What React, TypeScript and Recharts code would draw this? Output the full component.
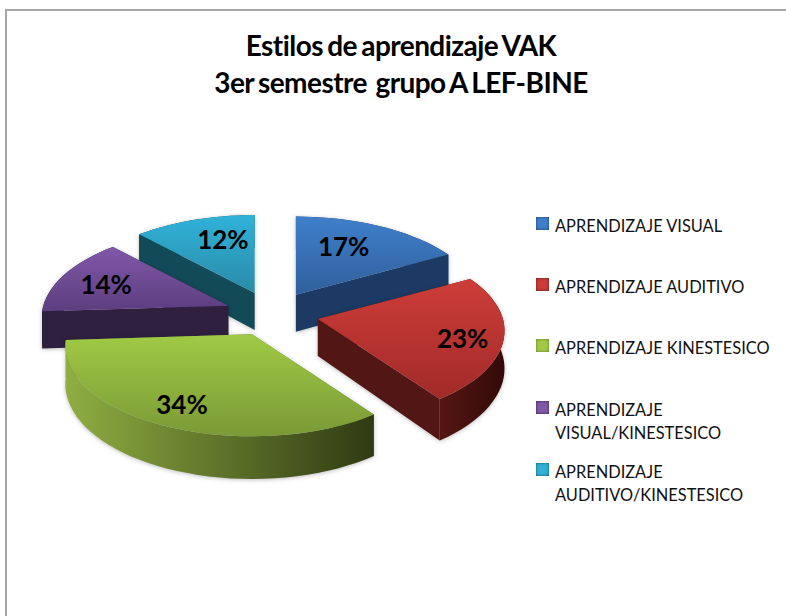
import { Legend, Pie, PieChart } from "recharts";

const CATEGORIES = [
  "APRENDIZAJE VISUAL",
  "APRENDIZAJE AUDITIVO",
  "APRENDIZAJE KINESTESICO",
  "APRENDIZAJE VISUAL/KINESTESICO",
  "APRENDIZAJE AUDITIVO/KINESTESICO",
];
const VALUES = [17, 23, 34, 14, 12];
const LEGEND_LINES = [
  ["APRENDIZAJE VISUAL"],
  ["APRENDIZAJE AUDITIVO"],
  ["APRENDIZAJE KINESTESICO"],
  ["APRENDIZAJE", "VISUAL/KINESTESICO"],
  ["APRENDIZAJE", "AUDITIVO/KINESTESICO"],
];
const TOP_LIGHT = ["#3f7fca", "#cd3d38", "#a0ca45", "#8058a8", "#30b2d8"];
const TOP_DARK = ["#2f609c", "#a12a28", "#7a9a36", "#5c3e80", "#2a8ba8"];
const SIDE = ["#1c3a63", "#521614", "#5d7428", "#2f2040", "#124a58"];
const RIM_LIGHT = ["#1c3a63", "#551613", "#8fae42", "#2f2040", "#124a58"];
const RIM_DARK = ["#1c3a63", "#330a08", "#2f3a12", "#2f2040", "#124a58"];

// where the percent label sits along the slice, plus a small hand nudge
const LABEL_RADIUS = [0.6, 0.8, 0.86, 0.69, 0.59];
const LABEL_DX = [-3, -4, 7, -9, 4];
const LABEL_DY = [-8, 3, -9, 0, -11];
const LEGEND_TOPS = [214, 275, 336, 398, 460];

// Excel-style 3D pie: the slices are painted back to front, so the data runs
// counter-clockwise from the right edge of the first slice.
const DRAW_ORDER = [0, 4, 3, 2, 1];
const data = DRAW_ORDER.map((i) => ({ name: CATEGORIES[i], value: VALUES[i], idx: i }));
const START_ANGLE = 90 - (VALUES[0] / 100) * 360;

const SQUASH = 0.478;
const PERSPECTIVE = 0.133;
const EXPLODE = 47;
const DEPTH = 37;

const rad = (d: number) => (d * Math.PI) / 180;

function apexOf(cx: number, cy: number, midAngle: number) {
  const clock = rad(90 - midAngle);
  return {
    x: cx + EXPLODE * Math.sin(clock),
    y: cy - EXPLODE * SQUASH * Math.cos(clock),
  };
}

function rimPoint(ax: number, ay: number, r: number, clockDeg: number) {
  const t = rad(clockDeg);
  const k = 1 / (1 + PERSPECTIVE * Math.cos(t));
  return {
    x: ax + r * Math.sin(t) * k,
    y: ay - r * SQUASH * Math.cos(t) * k,
    d: DEPTH * k,
  };
}

const pathOf = (pts: { x: number; y: number }[]) =>
  "M" + pts.map((p) => `${p.x.toFixed(1)},${p.y.toFixed(1)}`).join("L") + "Z";

function Slice3D(props: any) {
  const { cx, cy, outerRadius, startAngle, endAngle, midAngle, payload } = props;
  const idx = payload.idx;
  const apex = apexOf(cx, cy, midAngle);

  const from = 90 - endAngle;
  const to = 90 - startAngle;
  const rim: { x: number; y: number; d: number }[] = [];
  const steps = Math.ceil((to - from) / 3);
  for (let s = 0; s <= steps; s++) {
    rim.push(rimPoint(apex.x, apex.y, outerRadius, from + ((to - from) * s) / steps));
  }
  const first = rim[0];
  const last = rim[rim.length - 1];
  const down = (p: { x: number; y: number; d: number }) => ({ x: p.x, y: p.y + p.d });
  const apexDown = { x: apex.x, y: apex.y + DEPTH };

  const topId = `top-${idx}`;
  const rimId = `rim-${idx}`;

  return (
    <g style={{ filter: "drop-shadow(0 1px 2px rgba(0,0,0,0.25))" }}>
      <defs>
        <linearGradient id={topId} x1="0" y1="0" x2="0" y2="1">
          <stop offset="0%" stopColor={TOP_LIGHT[idx]} />
          <stop offset="100%" stopColor={TOP_DARK[idx]} />
        </linearGradient>
        <linearGradient id={rimId} x1="0" y1="0" x2="1" y2="0">
          <stop offset="0%" stopColor={RIM_LIGHT[idx]} />
          <stop offset="100%" stopColor={RIM_DARK[idx]} />
        </linearGradient>
      </defs>
      <path d={pathOf([apex, first, down(first), apexDown])} fill={SIDE[idx]} />
      <path d={pathOf([apex, last, down(last), apexDown])} fill={SIDE[idx]} />
      <path d={pathOf([...rim, ...[...rim].reverse().map(down)])} fill={`url(#${rimId})`} />
      <path d={pathOf([apex, ...rim])} fill={`url(#${topId})`} />
    </g>
  );
}

function SliceLabel(props: any) {
  const { cx, cy, outerRadius, midAngle, payload, value } = props;
  const idx = payload.idx;
  const apex = apexOf(cx, cy, midAngle);
  const p = rimPoint(apex.x, apex.y, outerRadius * LABEL_RADIUS[idx], 90 - midAngle);
  return (
    <text
      x={p.x + LABEL_DX[idx]}
      y={p.y + LABEL_DY[idx]}
      textAnchor="middle"
      dominantBaseline="central"
      fontFamily="Lato"
      fontWeight={700}
      fontSize={26}
      fill="#000000"
    >
      {`${value}%`}
    </text>
  );
}

function LegendBlock() {
  return (
    <div style={{ position: "relative", width: 786, height: 616 }}>
      {LEGEND_LINES.map((lines, i) => (
        <div
          key={i}
          style={{
            position: "absolute",
            left: 536,
            top: LEGEND_TOPS[i],
            display: "flex",
            fontFamily: "Lato",
            fontSize: 16.4,
            lineHeight: "23px",
            color: "#111111",
            whiteSpace: "pre",
          }}
        >
          <span
            style={{
              width: 13,
              height: 13,
              marginTop: 3,
              marginRight: 6,
              background: TOP_LIGHT[i],
              boxShadow: `inset 0 0 3px ${SIDE[i]}`,
            }}
          />
          <span>
            {lines.map((l) => (
              <div key={l}>{l}</div>
            ))}
          </span>
        </div>
      ))}
    </div>
  );
}

export default function App() {
  return (
    <div style={{ position: "absolute", left: 0, top: 0, width: 786, height: 616, background: "#fff", overflow: "hidden" }}>
      <div
        style={{
          position: "absolute",
          left: 5,
          top: 9,
          width: 781,
          height: 607,
          boxSizing: "border-box",
          borderLeft: "2px solid #a6a6a6",
          borderTop: "2px solid #a6a6a6",
        }}
      />
      <div
        style={{
          position: "absolute",
          left: 5,
          width: 792,
          top: 27,
          textAlign: "center",
          fontFamily: "Lato",
          fontWeight: 700,
          fontSize: 28,
          lineHeight: "37px",
          letterSpacing: "-0.55px",
          wordSpacing: "-2px",
          color: "#000000",
          whiteSpace: "pre",
        }}
      >
        <div>Estilos de aprendizaje VAK</div>
        <div>3er semestre  grupo A LEF-BINE</div>
      </div>
      <PieChart width={786} height={616} margin={{ top: 0, right: 0, bottom: 0, left: 0 }} style={{ position: "absolute", left: 0, top: 0 }}>
        <Pie
          data={data}
          dataKey="value"
          nameKey="name"
          cx={272}
          cy={314}
          outerRadius={185}
          startAngle={START_ANGLE}
          endAngle={START_ANGLE + 360}
          shape={Slice3D}
          label={SliceLabel}
          labelLine={false}
          stroke="none"
          isAnimationActive={false}
        />
        <Legend
          content={LegendBlock}
          wrapperStyle={{ position: "absolute", left: 0, top: 0, width: 786, height: 616, pointerEvents: "none" }}
        />
      </PieChart>
    </div>
  );
}
